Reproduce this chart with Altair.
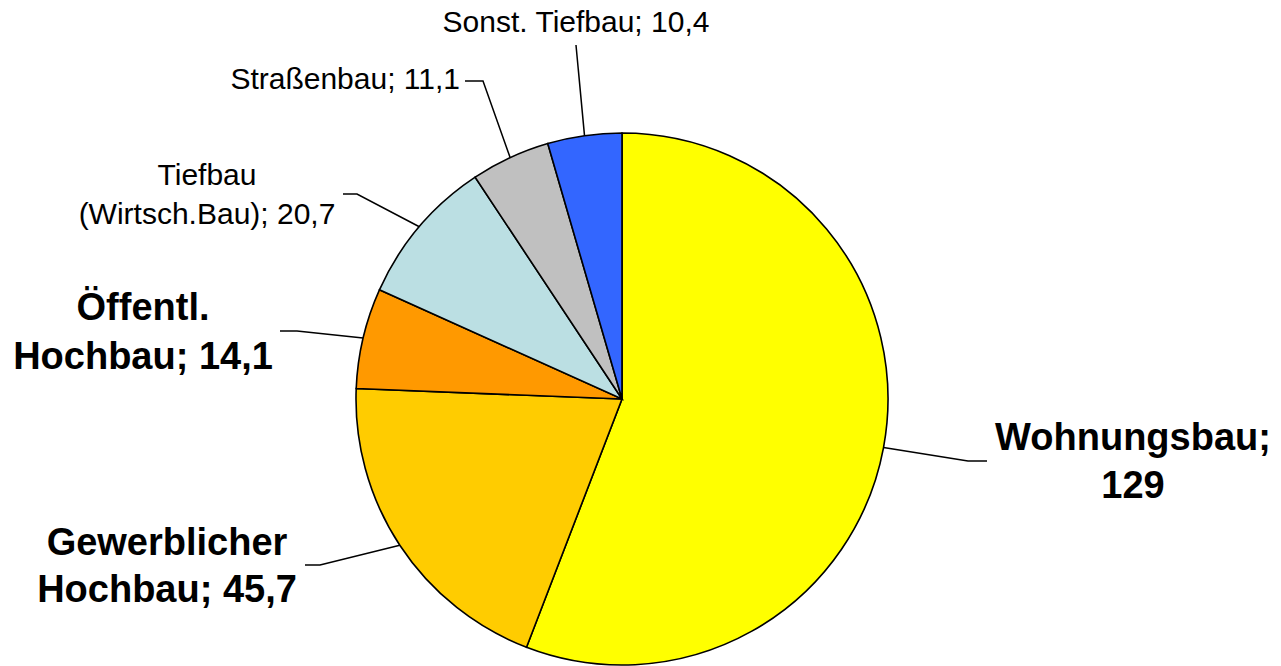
import math
import altair as alt
import pandas as pd

# ---- data ----
categories = ["Wohnungsbau", "Gewerblicher Hochbau", "Öffentl. Hochbau",
              "Tiefbau (Wirtsch.Bau)", "Straßenbau", "Sonst. Tiefbau"]
values = [129, 45.7, 14.1, 20.7, 11.1, 10.4]
value_labels = ["129", "45,7", "14,1", "20,7", "11,1", "10,4"]
label_texts = ["Wohnungsbau;\n129", "Gewerblicher\nHochbau; 45,7", "Öffentl.\nHochbau; 14,1",
               "Tiefbau\n(Wirtsch.Bau); 20,7", "Straßenbau; 11,1", "Sonst. Tiefbau; 10,4"]
bold = [True, True, True, False, False, False]
colors = ["#FFFF00", "#FFCC00", "#FF9900", "#BBDFE3", "#C0C0C0", "#3366FF"]

# ---- layout (plot-area pixel coordinates) ----
W, H = 1265, 658
CX, CY, R = 614, 391, 266
# label anchor: (center x, first baseline y, line height, align)
label_pos = [(1125, 442, 48, "center"), (159, 547, 47, "center"), (135, 312, 49, "center"),
             (199, 177, 39, "center"), (452, 81, 0, "right"), (568, 24, 0, "center")]
# leader polyline points after the slice point
leader_pts = [[(960, 453), (979, 453)], [(312, 557), (297, 557)], [(289, 323), (272, 323)],
              [(349, 186), (335, 186)], [(475, 73), (457, 73)], [(568, 37)]]

df = pd.DataFrame({"cat": categories, "value": values, "idx": list(range(len(values)))})

total = sum(values)
rows = []
cum = 0.0
for i, v in enumerate(values):
    mid = (cum + v / 2) / total * 2 * math.pi
    cum += v
    sx = CX + R * math.sin(mid)
    sy = CY - R * math.cos(mid)
    pts = [(sx, sy)] + leader_pts[i]
    for k, (px, py) in enumerate(pts):
        rows.append({"cat": categories[i], "k": k, "x": px, "y": py})
lines_df = pd.DataFrame(rows)

text_rows = []
for i, t in enumerate(label_texts):
    lx, ly, lh, al = label_pos[i]
    for j, line in enumerate(t.split("\n")):
        text_rows.append({"t": line, "x": lx, "y": ly + j * lh, "bold": bold[i], "align": al})
text_df = pd.DataFrame(text_rows)

xs = alt.Scale(domain=[0, W], range=[0, W])
ys = alt.Scale(domain=[0, H], range=[0, H])

pie = alt.Chart(df).mark_arc(outerRadius=R, stroke="black", strokeWidth=1.6).encode(
    theta=alt.Theta("value:Q", stack=True),
    order=alt.Order("idx:Q"),
    color=alt.Color("cat:N", scale=alt.Scale(domain=categories, range=colors), legend=None),
    x=alt.value(CX),
    y=alt.value(CY),
)

leaders = alt.Chart(lines_df).mark_line(color="black", strokeWidth=1.5).encode(
    x=alt.X("x:Q", scale=xs, axis=None),
    y=alt.Y("y:Q", scale=ys, axis=None),
    detail="cat:N",
    order="k:Q",
)

def text_layer(is_bold, align):
    d = text_df[(text_df["bold"] == is_bold) & (text_df["align"] == align)]
    return alt.Chart(d).mark_text(
        font="Liberation Sans",
        fontSize=38 if is_bold else 30,
        fontWeight="bold" if is_bold else "normal",
        align=align,
        baseline="alphabetic",
        color="black",
    ).encode(
        x=alt.X("x:Q", scale=xs, axis=None),
        y=alt.Y("y:Q", scale=ys, axis=None),
        text="t:N",
    )

chart = alt.layer(
    pie, leaders,
    text_layer(True, "center"), text_layer(False, "center"), text_layer(False, "right"),
).properties(
    width=W, height=H, padding=0,
    autosize=alt.AutoSizeParams(type="none"),
).configure_view(stroke=None)

chart.save("out.html", embed_options={"renderer": "svg", "actions": False})
